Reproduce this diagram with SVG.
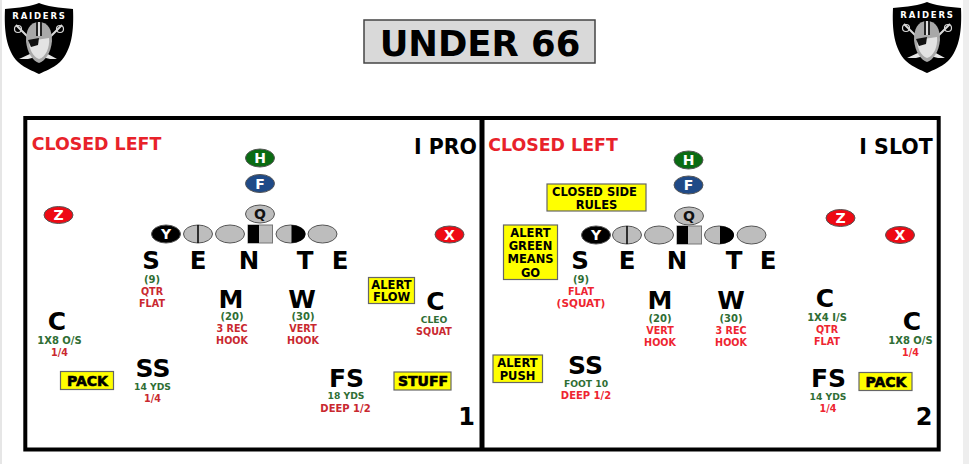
<svg xmlns="http://www.w3.org/2000/svg" width="969" height="464" viewBox="0 0 969 464">
<style>
text{font-family:"DejaVu Sans",Verdana,sans-serif;font-weight:700;text-anchor:middle}
.o{stroke:#555;stroke-width:1}
.g{fill:#bdbdbd}
.p{fill:#fff;font-size:14px}
.d{fill:#111;font-size:14px}
.big{fill:#000;font-size:24.5px}
.pos{fill:#000;font-size:25px}
.gn{fill:#2f6e34;font-size:10px}
.n{font-size:9.200px}
.rd{fill:#c9282f;font-size:9.600px}
.rb{fill:#ee2530;font-size:9.600px}
.w{font-size:10px}
.box{fill:#ffff00;stroke:#666;stroke-width:1.2}
.bt{fill:#000;font-size:11.500px}
.pk{fill:#000;font-size:14px;stroke:#000;stroke-width:.6}
.hd{fill:#e8222a;font-size:17.400px}
.fm{fill:#000;font-size:20.500px}
.nm{fill:#000;font-size:24px}
</style>
<defs>
<g id="shield">
<path d="M39 3 C45 6 60 8 73 9 C74 30 72 50 60 62 C52 69 45 71 39 74 C33 71 26 69 18 62 C6 50 4 30 5 9 C18 8 33 6 39 3Z" fill="#000"/>
<path d="M16 25 L28 37 M62 25 L50 37" stroke="#d8d8d8" stroke-width="2" fill="none"/>
<circle cx="18" cy="29" r="3.500" fill="none" stroke="#d8d8d8" stroke-width="1.200"/>
<circle cx="60" cy="29" r="3.500" fill="none" stroke="#d8d8d8" stroke-width="1.200"/>
<path d="M19 59 L32 53 L36 57 L28 59Z M57 59 L46 53 L42 57 L50 59Z" fill="#e6e6e6"/>
<path d="M39 22 C29 22 26 31 26 41 C27 53 33 61 39 63 C45 61 51 53 52 41 C52 31 49 22 39 22Z" fill="#a8a8a8"/>
<path d="M29 41 L49 38 C50 47 46 57 39 59 C33 57 29 49 29 41Z" fill="#e3e3e3"/>
<path d="M28 40 L39 38 L38 45 L31 47Z" fill="#111"/>
<rect x="36" y="22" width="6" height="14" fill="#222"/>
<rect x="38" y="22" width="2" height="14" fill="#ddd"/>
<text x="39.500" y="18.500" style="font-size:8.500px;letter-spacing:1.800px" fill="#fff">RAIDERS</text>
</g>
</defs>
<rect width="969" height="464" fill="#fff"/>
<rect x="0" y="0" width="2" height="464" fill="#e6e6e6"/>
<rect x="963" y="0" width="6" height="464" fill="#eeeeee"/>
<g id="logo-left"><use href="#shield"/></g>
<g id="logo-right"><use href="#shield" x="888" y="-1"/></g>
<g id="title">
<rect x="364" y="20" width="231" height="43" fill="#d9d9d9" stroke="#444" stroke-width="1.5"/>
<text x="480" y="56" style="font-size:35.400px" fill="#000">UNDER 66</text>
</g>
<g id="panels" fill="none" stroke="#000" stroke-width="4">
<rect x="25.300" y="118" width="913.400" height="331.500"/>
<line x1="482" y1="118" x2="482" y2="449.500" stroke-width="5"/>
</g>
<g id="panel-1">
<text class="hd" x="96.500" y="150">CLOSED LEFT</text>
<text class="fm" x="445.500" y="153.500">I PRO</text>
<text class="nm" x="466.500" y="425">1</text>
<g id="p1-H"><ellipse class="o" cx="260" cy="158" rx="14.500" ry="9" fill="#0a6b12"/><text class="p" x="260" y="163">H</text></g>
<g id="p1-F"><ellipse class="o" cx="260" cy="183.500" rx="14.500" ry="9" fill="#1f4a87"/><text class="p" x="260" y="188.500">F</text></g>
<g id="p1-Q"><ellipse class="o g" cx="260" cy="214" rx="14.500" ry="9"/><text class="d" x="260" y="219">Q</text></g>
<g id="p1-Z"><ellipse class="o" cx="58.500" cy="215" rx="14.500" ry="8.500" fill="#ee0a14"/><text class="p" x="58.500" y="220">Z</text></g>
<g id="p1-X"><ellipse class="o" cx="449.500" cy="234.500" rx="14.500" ry="8.500" fill="#ee0a14"/><text class="p" x="449.500" y="239.500">X</text></g>
<g id="p1-Y"><ellipse class="o" cx="166" cy="234" rx="14.500" ry="9" fill="#000"/><text class="p" x="166" y="239">Y</text></g>
<g id="p1-G1"><ellipse class="o g" cx="198" cy="234" rx="14.500" ry="9"/><line x1="198" y1="225" x2="198" y2="243" stroke="#000" stroke-width="1.500"/></g>
<g id="p1-G2"><ellipse class="o g" cx="230" cy="234" rx="14.500" ry="9"/></g>
<g id="p1-C"><rect class="g" x="248" y="225" width="24.500" height="18" stroke="#777"/><rect x="248" y="225" width="11" height="18" fill="#000"/></g>
<g id="p1-G3"><ellipse class="o g" cx="290.500" cy="234" rx="14.500" ry="9"/><path d="M291.500 225 A14 9 0 0 1 291.500 243Z" fill="#000"/></g>
<g id="p1-G4"><ellipse class="o g" cx="322.500" cy="234" rx="14.500" ry="9"/></g>
<g id="p1-S"><text class="big" x="151" y="269">S</text><text class="gn" x="152" y="283">(9)</text><text class="rd" x="152" y="295">QTR</text><text class="rd" x="152" y="307">FLAT</text></g>
<text class="big" x="198" y="269">E</text><text class="big" x="249" y="269">N</text><text class="big" x="305" y="269">T</text><text class="big" x="340" y="269">E</text>
<g id="p1-M"><text class="pos" x="231" y="308">M</text><text class="gn" x="232" y="319.500">(20)</text><text class="rd" x="232" y="332">3 REC</text><text class="rd" x="232" y="344">HOOK</text></g>
<g id="p1-W"><text class="pos" x="302" y="308">W</text><text class="gn" x="303" y="319.500">(30)</text><text class="rd" x="303" y="332">VERT</text><text class="rd" x="303" y="344">HOOK</text></g>
<g id="p1-CL"><text class="pos" x="57" y="330">C</text><text class="gn" x="59.500" y="344">1X8 O/S</text><text class="rd" x="59.500" y="356">1/4</text></g>
<g id="p1-CR"><text class="pos" x="435.500" y="310">C</text><text class="gn n" x="434" y="323">CLEO</text><text class="rd" x="434" y="335">SQUAT</text></g>
<g id="p1-SS"><text class="pos" x="153" y="377">SS</text><text class="gn n" x="152.500" y="390">14 YDS</text><text class="rd" x="152.500" y="402">1/4</text></g>
<g id="p1-FS"><text class="pos" x="346.500" y="386.500">FS</text><text class="gn n" x="346" y="399">18 YDS</text><text class="rd w" x="345.500" y="411.500">DEEP 1/2</text></g>
<g id="p1-pack"><rect class="box" x="60.500" y="371.500" width="53" height="18"/><text class="pk" x="87.500" y="385.500">PACK</text></g>
<g id="p1-stuff"><rect class="box" x="394" y="372" width="57" height="18"/><text class="pk" x="423" y="386">STUFF</text></g>
<g id="p1-alert"><rect class="box" x="368.500" y="277.500" width="46" height="26"/><text class="bt" x="391.500" y="288.500">ALERT</text><text class="bt" x="391.500" y="301">FLOW</text></g>
</g>
<g id="panel-2">
<text class="hd" x="553" y="151">CLOSED LEFT</text>
<text class="fm" x="896" y="153.500">I SLOT</text>
<text class="nm" x="924" y="425">2</text>
<g id="p2-H"><ellipse class="o" cx="688.500" cy="160" rx="14.500" ry="9" fill="#0a6b12"/><text class="p" x="688.500" y="165">H</text></g>
<g id="p2-F"><ellipse class="o" cx="688.500" cy="185" rx="14.500" ry="9" fill="#1f4a87"/><text class="p" x="688.500" y="190">F</text></g>
<g id="p2-Q"><ellipse class="o g" cx="689" cy="216" rx="14.500" ry="9"/><text class="d" x="689" y="221">Q</text></g>
<g id="p2-Z"><ellipse class="o" cx="840.500" cy="218" rx="14.500" ry="8.500" fill="#ee0a14"/><text class="p" x="840.500" y="223">Z</text></g>
<g id="p2-X"><ellipse class="o" cx="900" cy="235" rx="14.500" ry="8.500" fill="#ee0a14"/><text class="p" x="900" y="240">X</text></g>
<g id="p2-Y"><ellipse class="o" cx="596" cy="235" rx="14.500" ry="9" fill="#000"/><text class="p" x="596" y="240">Y</text></g>
<g id="p2-G1"><ellipse class="o g" cx="627" cy="235" rx="14.500" ry="9"/><line x1="627" y1="226" x2="627" y2="244" stroke="#000" stroke-width="1.500"/></g>
<g id="p2-G2"><ellipse class="o g" cx="659" cy="235" rx="14.500" ry="9"/></g>
<g id="p2-C"><rect class="g" x="677" y="226" width="24.500" height="18" stroke="#777"/><rect x="677" y="226" width="11" height="18" fill="#000"/></g>
<g id="p2-G3"><ellipse class="o g" cx="719" cy="235" rx="14.500" ry="9"/><path d="M720 226 A14 9 0 0 1 720 244Z" fill="#000"/></g>
<g id="p2-G4"><ellipse class="o g" cx="751.500" cy="235" rx="14.500" ry="9"/></g>
<g id="p2-S"><text class="big" x="580" y="269">S</text><text class="gn" x="581" y="283">(9)</text><text class="rb" x="581" y="295">FLAT</text><text class="rb" style="font-size:10.500px" x="581" y="307">(SQUAT)</text></g>
<text class="big" x="627" y="269">E</text><text class="big" x="677" y="269">N</text><text class="big" x="734" y="269">T</text><text class="big" x="768" y="269">E</text>
<g id="p2-M"><text class="pos" x="660" y="309">M</text><text class="gn" x="660" y="322">(20)</text><text class="rb" x="660" y="334">VERT</text><text class="rb" x="660" y="346">HOOK</text></g>
<g id="p2-W"><text class="pos" x="731" y="309">W</text><text class="gn" x="731" y="322">(30)</text><text class="rb" x="731" y="334">3 REC</text><text class="rb" x="731" y="346">HOOK</text></g>
<g id="p2-C1"><text class="pos" x="825" y="306.500">C</text><text class="gn" x="827" y="321">1X4 I/S</text><text class="rb" x="827" y="333">QTR</text><text class="rb" x="827" y="345">FLAT</text></g>
<g id="p2-C2"><text class="pos" x="912" y="330">C</text><text class="gn" x="910.500" y="344">1X8 O/S</text><text class="rb" x="910.500" y="356">1/4</text></g>
<g id="p2-SS"><text class="pos" x="585.500" y="374">SS</text><text class="gn n" x="586" y="386.500">FOOT 10</text><text class="rb w" x="586" y="398.500">DEEP 1/2</text></g>
<g id="p2-FS"><text class="pos" x="828.500" y="386.500">FS</text><text class="gn n" x="828" y="400">14 YDS</text><text class="rb" x="828" y="412">1/4</text></g>
<g id="p2-pack"><rect class="box" x="859" y="372.500" width="53" height="18"/><text class="pk" x="886" y="386.500">PACK</text></g>
<g id="p2-closed"><rect class="box" x="547" y="184" width="99" height="27"/><text class="bt" x="594.500" y="196">CLOSED SIDE</text><text class="bt" x="596.500" y="209">RULES</text></g>
<g id="p2-green"><rect class="box" x="503.500" y="225" width="54" height="54.500"/><text class="bt" x="530.500" y="236.500">ALERT</text><text class="bt" x="530.500" y="250">GREEN</text><text class="bt" x="530.500" y="263">MEANS</text><text class="bt" x="530.500" y="276.500">GO</text></g>
<g id="p2-push"><rect class="box" x="493" y="355" width="49.500" height="27.500"/><text class="bt" x="517.500" y="366.500">ALERT</text><text class="bt" x="517.500" y="380">PUSH</text></g>
</g>
</svg>
